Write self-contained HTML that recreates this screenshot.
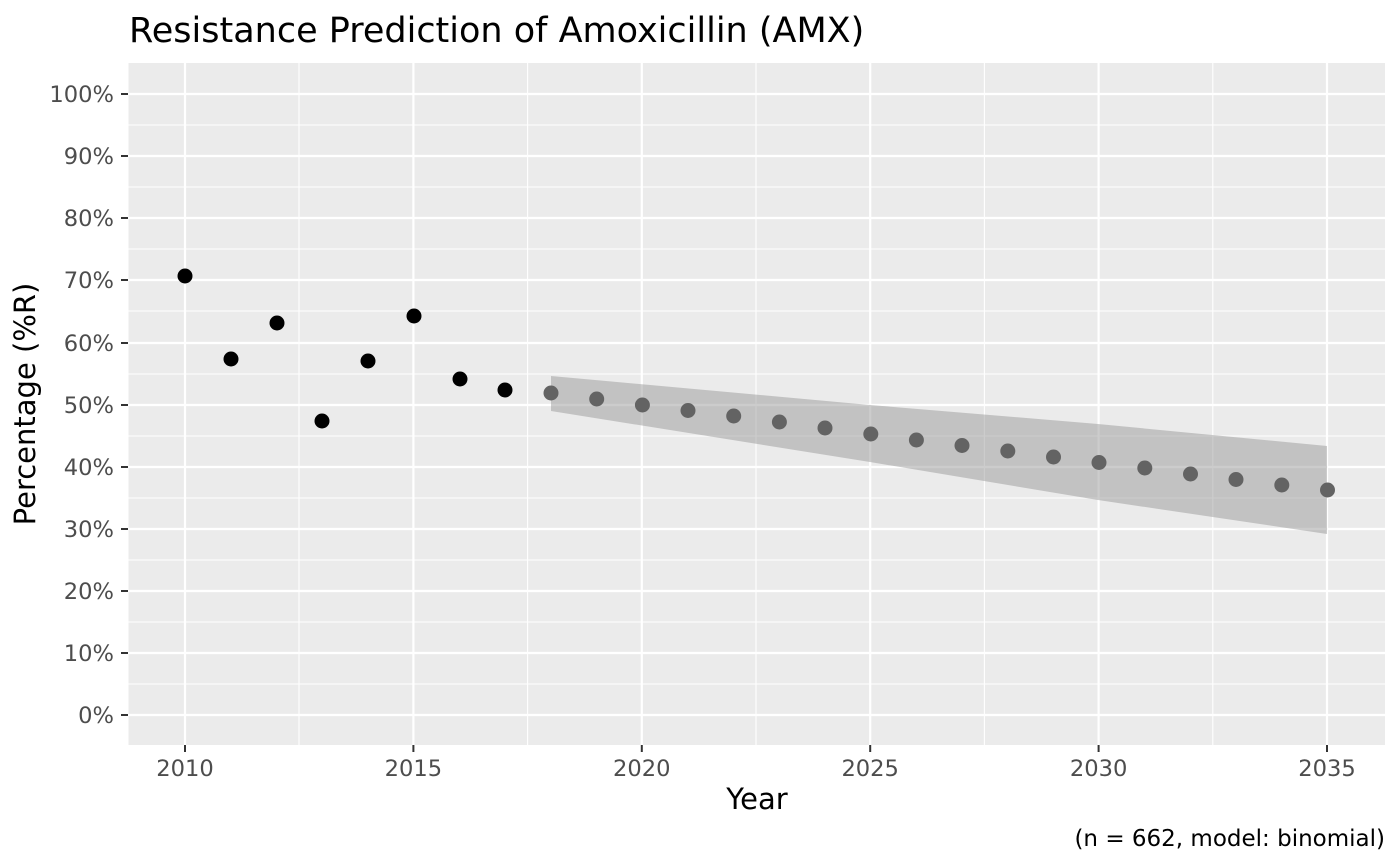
<!DOCTYPE html>
<html><head><meta charset="utf-8"><style>
html,body{margin:0;padding:0;background:#fff;}
svg{display:block;font-family:"DejaVu Sans","Liberation Sans",sans-serif;}
</style></head><body>
<svg width="1400" height="866" viewBox="0 0 1400 866" xmlns="http://www.w3.org/2000/svg">
<rect x="0" y="0" width="1400" height="866" fill="#fff"/>
<text x="129" y="42" font-size="35" fill="#000">Resistance Prediction of Amoxicillin (AMX)</text>
<rect x="128.5" y="63" width="1256.5" height="682" fill="#ebebeb"/>
<g stroke="#fff" stroke-width="1.1">
<line x1="128.5" x2="1385" y1="746" y2="746"/>
<line x1="128.5" x2="1385" y1="684" y2="684"/>
<line x1="128.5" x2="1385" y1="622" y2="622"/>
<line x1="128.5" x2="1385" y1="560" y2="560"/>
<line x1="128.5" x2="1385" y1="498" y2="498"/>
<line x1="128.5" x2="1385" y1="436" y2="436"/>
<line x1="128.5" x2="1385" y1="374" y2="374"/>
<line x1="128.5" x2="1385" y1="311" y2="311"/>
<line x1="128.5" x2="1385" y1="249" y2="249"/>
<line x1="128.5" x2="1385" y1="187" y2="187"/>
<line x1="128.5" x2="1385" y1="125" y2="125"/>
<line y1="63" y2="745" x1="299" x2="299"/>
<line y1="63" y2="745" x1="527.6" x2="527.6"/>
<line y1="63" y2="745" x1="756" x2="756"/>
<line y1="63" y2="745" x1="984.4" x2="984.4"/>
<line y1="63" y2="745" x1="1212.8" x2="1212.8"/>
</g>
<g stroke="#fff" stroke-width="2.2">
<line x1="128.5" x2="1385" y1="715" y2="715"/>
<line x1="128.5" x2="1385" y1="653" y2="653"/>
<line x1="128.5" x2="1385" y1="591" y2="591"/>
<line x1="128.5" x2="1385" y1="529" y2="529"/>
<line x1="128.5" x2="1385" y1="467" y2="467"/>
<line x1="128.5" x2="1385" y1="405" y2="405"/>
<line x1="128.5" x2="1385" y1="343" y2="343"/>
<line x1="128.5" x2="1385" y1="280" y2="280"/>
<line x1="128.5" x2="1385" y1="218" y2="218"/>
<line x1="128.5" x2="1385" y1="156" y2="156"/>
<line x1="128.5" x2="1385" y1="94" y2="94"/>
<line y1="63" y2="745" x1="185" x2="185"/>
<line y1="63" y2="745" x1="413.4" x2="413.4"/>
<line y1="63" y2="745" x1="641.8" x2="641.8"/>
<line y1="63" y2="745" x1="870.2" x2="870.2"/>
<line y1="63" y2="745" x1="1098.6" x2="1098.6"/>
<line y1="63" y2="745" x1="1327" x2="1327"/>
</g>
<polygon points="551,376 870,405 1098,424 1327,446 1327,534 1098,500 870,462 551,411" fill="#999" fill-opacity="0.5"/>
<g fill="#000">
<circle cx="185" cy="276" r="7.5"/><circle cx="231" cy="359" r="7.5"/><circle cx="277" cy="323" r="7.5"/>
<circle cx="322" cy="421" r="7.5"/><circle cx="368" cy="361" r="7.5"/><circle cx="414" cy="316" r="7.5"/>
<circle cx="460" cy="379" r="7.5"/><circle cx="505" cy="390" r="7.5"/>
</g>
<g fill="#636363">
<circle cx="551" cy="393" r="7.5"/><circle cx="596.7" cy="399" r="7.5"/><circle cx="642.4" cy="405" r="7.5"/>
<circle cx="688" cy="410.5" r="7.5"/><circle cx="733.7" cy="416" r="7.5"/><circle cx="779.4" cy="422" r="7.5"/>
<circle cx="825" cy="428" r="7.5"/><circle cx="870.8" cy="434" r="7.5"/><circle cx="916.4" cy="440" r="7.5"/>
<circle cx="962" cy="445.5" r="7.5"/><circle cx="1007.8" cy="451" r="7.5"/><circle cx="1053.5" cy="457" r="7.5"/>
<circle cx="1099" cy="462.5" r="7.5"/><circle cx="1144.8" cy="468" r="7.5"/><circle cx="1190.5" cy="474" r="7.5"/>
<circle cx="1236" cy="479.5" r="7.5"/><circle cx="1281.8" cy="485" r="7.5"/><circle cx="1327.5" cy="490" r="7.5"/>
</g>
<g stroke="#333" stroke-width="2">
<line x1="121" x2="128" y1="715" y2="715"/><line x1="121" x2="128" y1="653" y2="653"/>
<line x1="121" x2="128" y1="591" y2="591"/><line x1="121" x2="128" y1="529" y2="529"/>
<line x1="121" x2="128" y1="467" y2="467"/><line x1="121" x2="128" y1="405" y2="405"/>
<line x1="121" x2="128" y1="343" y2="343"/><line x1="121" x2="128" y1="280" y2="280"/>
<line x1="121" x2="128" y1="218" y2="218"/><line x1="121" x2="128" y1="156" y2="156"/>
<line x1="121" x2="128" y1="94" y2="94"/>
<line y1="745" y2="752" x1="185" x2="185"/><line y1="745" y2="752" x1="413.4" x2="413.4"/>
<line y1="745" y2="752" x1="641.8" x2="641.8"/><line y1="745" y2="752" x1="870.2" x2="870.2"/>
<line y1="745" y2="752" x1="1098.6" x2="1098.6"/><line y1="745" y2="752" x1="1327" x2="1327"/>
</g>
<g font-size="22.6" fill="#4d4d4d" text-anchor="end">
<text x="114" y="723">0%</text><text x="114" y="661">10%</text><text x="114" y="599">20%</text>
<text x="114" y="537">30%</text><text x="114" y="475">40%</text><text x="114" y="413">50%</text>
<text x="114" y="351">60%</text><text x="114" y="288">70%</text><text x="114" y="226">80%</text>
<text x="114" y="164">90%</text><text x="114" y="102">100%</text>
</g>
<g font-size="22.6" fill="#4d4d4d" text-anchor="middle">
<text x="185" y="776">2010</text><text x="413.4" y="776">2015</text><text x="641.8" y="776">2020</text>
<text x="870.2" y="776">2025</text><text x="1098.6" y="776">2030</text><text x="1327" y="776">2035</text>
</g>
<text x="757" y="809" font-size="29" text-anchor="middle" fill="#000">Year</text>
<text transform="translate(35,404) rotate(-90)" font-size="29" text-anchor="middle" fill="#000">Percentage (%R)</text>
<text x="1385" y="846" font-size="23" text-anchor="end" fill="#000">(n = 662, model: binomial)</text>
</svg>
</body></html>
